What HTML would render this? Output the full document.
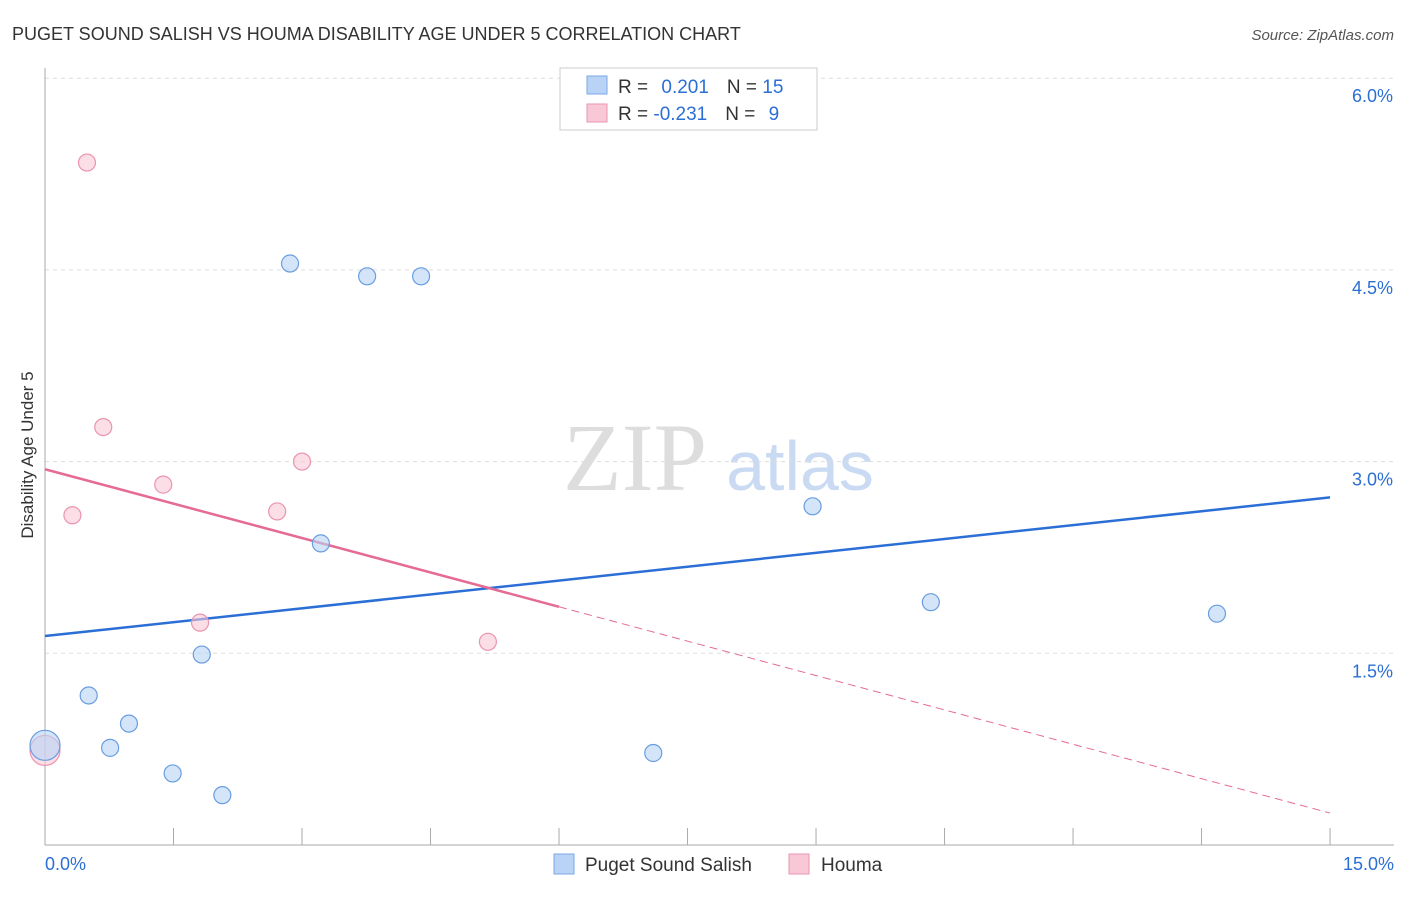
<!DOCTYPE html>
<html><head><meta charset="utf-8">
<style>
body{margin:0;background:#fff;font-family:"Liberation Sans",sans-serif;}
svg text{font-family:"Liberation Sans",sans-serif;}
</style></head>
<body>
<svg id="chart" width="1406" height="892" xmlns="http://www.w3.org/2000/svg">
<text x="12" y="40" font-size="18" fill="#333">PUGET SOUND SALISH VS HOUMA DISABILITY AGE UNDER 5 CORRELATION CHART</text>
<text x="1394" y="40" font-size="15" fill="#555" text-anchor="end" font-style="italic">Source: ZipAtlas.com</text>
<text x="33" y="455" font-size="17" fill="#333" text-anchor="middle" transform="rotate(-90 33 455)">Disability Age Under 5</text>
<g>
<text x="635" y="490" font-size="96" fill="#ddd" text-anchor="middle" font-family="Liberation Serif" style="font-family:'Liberation Serif',serif">ZIP</text>
<text x="800" y="490" font-size="70" fill="#c9daf2" text-anchor="middle">atlas</text>
</g>
<g id="grid"></g>
<g id="axes"></g>
<g id="trends"></g>
<g id="points"></g>
<g>
<rect x="560" y="68" width="257" height="62" fill="#fff" stroke="#ccc"/>
<rect x="587" y="76" width="20" height="18" fill="#b8d3f5" stroke="#7aa8e6"/>
<rect x="587" y="104" width="20" height="18" fill="#f9c8d6" stroke="#eb94b0"/>
<text x="618" y="93" font-size="19" fill="#333">R = <tspan fill="#2b6fd6" dx="8">0.201</tspan><tspan dx="18">N = </tspan><tspan fill="#2b6fd6">15</tspan></text>
<text x="618" y="120" font-size="19" fill="#333">R = <tspan fill="#2b6fd6">-0.231</tspan><tspan dx="18">N = </tspan><tspan fill="#2b6fd6" dx="8">9</tspan></text>
</g>
<g>
<rect x="554" y="854" width="20" height="20" fill="#b8d3f5" stroke="#7aa8e6"/>
<text x="585" y="871" font-size="19" fill="#333">Puget Sound Salish</text>
<rect x="789" y="854" width="20" height="20" fill="#f9c8d6" stroke="#eb94b0"/>
<text x="821" y="871" font-size="19" fill="#333">Houma</text>
</g>
</svg>
<script>
const blueX=[0,0.51,0.76,0.98,1.49,1.83,2.07,2.86,3.22,3.76,4.39,7.10,8.96,10.34,13.68];
const blueY=[0.78,1.17,0.76,0.95,0.56,1.49,0.39,4.55,2.36,4.45,4.45,0.72,2.65,1.90,1.81];
const pinkX=[0,0.49,0.32,0.68,1.38,1.81,2.71,3.00,5.17];
const pinkY=[0.74,5.34,2.58,3.27,2.82,1.74,2.61,3.00,1.59];
const blueTrend=[1.635,2.72];
const pinkTrend=[2.94,0.25];
const yTicks=[1.5,3.0,4.5,6.0];
const yTickLabels=["1.5%","3.0%","4.5%","6.0%"];
const xTicks=[0,1.5,3,4.5,6,7.5,9,10.5,12,13.5,15];
const NS="http://www.w3.org/2000/svg";
const sx=v=>45+v*85.67, sy=v=>845-v*127.8;
function mk(tag,attrs,parent){const e=document.createElementNS(NS,tag);for(const k in attrs)e.setAttribute(k,attrs[k]);document.getElementById(parent).appendChild(e);return e;}
yTicks.forEach((t,i)=>{
 const l=mk('line',{x1:45,x2:1394,y1:sy(t),y2:sy(t),stroke:'#ddd','stroke-dasharray':'4,4'},'grid');
 
 
 const tx=mk('text',{x:1393,y:sy(t)+24,'font-size':18,fill:'#2b6fd6','text-anchor':'end'},'grid');
 tx.textContent=yTickLabels[i];
 
 
});
const ax=mk('line',{x1:45,x2:45,y1:68,y2:845,stroke:'#aaa'},'axes');


const bx=mk('line',{x1:45,x2:1394,y1:845,y2:845,stroke:'#aaa'},'axes');


xTicks.forEach(t=>{
 const l=mk('line',{x1:sx(t),x2:sx(t),y1:828,y2:845,stroke:'#aaa'},'axes');
 
 
});
const x0=mk('text',{x:45,y:870,'font-size':18,fill:'#2b6fd6'},'axes');x0.textContent='0.0%';


const x1=mk('text',{x:1394,y:870,'font-size':18,fill:'#2b6fd6','text-anchor':'end'},'axes');x1.textContent='15.0%';


const bt=mk('line',{x1:sx(0),y1:sy(blueTrend[0]),x2:sx(15),y2:sy(blueTrend[1]),stroke:'#2b6fd6','stroke-width':2.5},'trends');


const pAt=x=>pinkTrend[0]+(pinkTrend[1]-pinkTrend[0])*x/15;
const pt=mk('line',{x1:sx(0),y1:sy(pAt(0)),x2:sx(6),y2:sy(pAt(6)),stroke:'#e56b95','stroke-width':2.5},'trends');


const pd=mk('line',{x1:sx(6),y1:sy(pAt(6)),x2:sx(15),y2:sy(pAt(15)),stroke:'#e56b95','stroke-width':1,'stroke-dasharray':'8,5'},'trends');


function dots(X,Y,fill,stroke,name){
 X.forEach((x,i)=>{
  const r=(x===0)?15:8.5;
  const c=mk('circle',{cx:sx(x),cy:sy(Y[i]),r:r,fill:fill,'fill-opacity':0.6,stroke:stroke,'stroke-width':1.2},'points');
  
  
 });
}
dots(pinkX,pinkY,'#f9c8d6','#eb94b0','houma-point');
dots(blueX,blueY,'#b8d3f5','#6a9de0','puget-sound-salish-point');
</script>
</body></html>
